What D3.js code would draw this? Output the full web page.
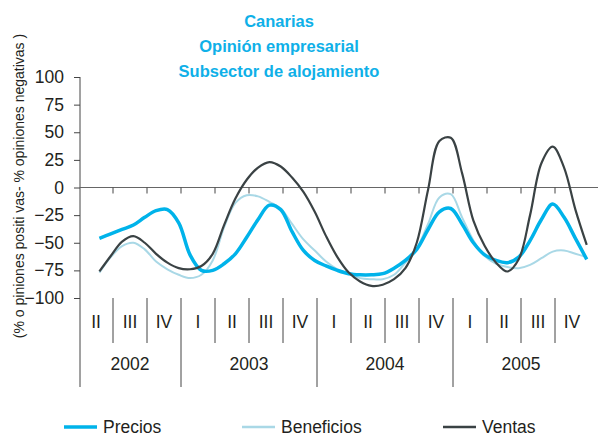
<!DOCTYPE html>
<html>
<head>
<meta charset="utf-8">
<script src="https://cdn.jsdelivr.net/npm/d3@7"></script>
<style>
  html, body { margin: 0; padding: 0; background: #fff; }
  svg { display: block; font-family: "Liberation Sans", Arial, Helvetica, sans-serif; }
</style>
</head>
<body>
<div id="chart"><svg width="598" height="437"></svg></div>
<script>
// titles
var titles = ["Canarias", "Opinión empresarial", "Subsector de alojamiento"];
var yLabel = "(% o piniones positi vas- % opiniones negativas )";

// category table: quarters from 2002 II to 2005 IV
var years = ["2002", "2003", "2004", "2005"];
var quarters = ["II", "III", "IV", "I", "II", "III", "IV", "I", "II", "III", "IV", "I", "II", "III", "IV"];
var quartersPerYear = [3, 4, 4, 4];
var yTicks = [100, 75, 50, 25, 0, -25, -50, -75, -100];

// monthly series, first value ~ two months into 2002 II
var firstMonth = 1.8;
var precios = [-46, -42, -38, -34, -27, -21, -20, -32, -61, -75, -75, -69, -60, -45, -29, -16, -20, -40, -57, -66,
  -71, -75, -78, -79, -79, -78, -73, -66, -56, -38, -22, -19, -33, -50, -61, -66, -68, -63, -48, -29,
  -15, -27, -46, -65];
var beneficios = [-77, -63, -53, -50, -56, -67, -74, -79, -82, -79, -66, -36, -14, -7, -8, -13, -19, -33, -47, -57,
  -67, -74, -78, -82, -83, -83, -79, -68, -55, -33, -9, -6, -27, -48, -62, -69, -72, -73, -70, -64,
  -58, -57, -60, -63];
var ventas = [-76, -62, -49, -44, -50, -60, -68, -73, -74, -71, -60, -34, -10, 7, 18, 23, 19, 9, -4, -22,
  -44, -63, -77, -85, -89, -88, -83, -73, -50, -2, 42, 45, 13, -30, -53, -68, -76, -65, -25, 22,
  37, 18, -20, -52];

var seriesNames = ["Precios", "Beneficios", "Ventas"];
var seriesColors = ["#00b3ea", "#a9d8e6", "#3a4244"];
var seriesWidths = [3.5, 2, 2.2];

var W = 598, H = 437;
var svg = d3.select("#chart").select("svg");
var ink = "#231f20";
var fs = "17.5px";

var y = d3.scaleLinear().domain([-100, 100]).range([298, 77]);
var xq = d3.scaleLinear().domain([0, 15]).range([79, 589]);
function xm(m) { return xq(m / 3); }

// title
svg.append("g").selectAll("text")
  .data(titles)
  .enter()
  .append("text")
  .attr("x", 279)
  .attr("y", function(d, i) { return 27 + i * 25; })
  .attr("text-anchor", "middle")
  .style("font-size", "16.5px")
  .style("font-weight", "bold")
  .style("fill", "#0fb0e8")
  .text(function(d) { return d; });

// y axis label
svg.append("text")
  .attr("transform", "translate(24,186)rotate(-90)")
  .attr("text-anchor", "middle")
  .style("font-size", "14px")
  .style("fill", ink)
  .text(yLabel);

// y axis
var yaxis = d3.axisLeft(y).tickValues(yTicks).tickSize(6).tickSizeOuter(0).tickPadding(10);
var gy = svg.append("g").attr("transform", "translate(80,0)").call(yaxis);
gy.select(".domain").remove();
gy.selectAll("line").attr("stroke", "#444");
gy.selectAll("text").style("font-size", fs).style("fill", ink);

svg.append("line")
  .attr("x1", 80).attr("x2", 80)
  .attr("y1", y(100)).attr("y2", 387)
  .attr("stroke", "#444");

// zero line with quarter ticks
svg.append("line")
  .attr("x1", 80).attr("x2", W)
  .attr("y1", y(0)).attr("y2", y(0))
  .attr("stroke", "#666");
svg.append("g").selectAll("line")
  .data(d3.range(1, 15))
  .enter()
  .append("line")
  .attr("x1", function(d) { return xq(d); })
  .attr("x2", function(d) { return xq(d); })
  .attr("y1", y(0)).attr("y2", y(0) + 6)
  .attr("stroke", "#444");

// category table
var yearEnds = [];
var acc = 0;
quartersPerYear.forEach(function(n) { acc += n; yearEnds.push(acc); });

svg.append("g").selectAll("line")
  .data(d3.range(1, 15))
  .enter()
  .append("line")
  .attr("x1", function(d) { return xq(d); })
  .attr("x2", function(d) { return xq(d); })
  .attr("y1", y(-100))
  .attr("y2", function(d) { return yearEnds.indexOf(d) >= 0 ? 387 : 343; })
  .attr("stroke", "#444");

svg.append("g").selectAll("text")
  .data(quarters)
  .enter()
  .append("text")
  .attr("x", function(d, i) { return xq(i + 0.5); })
  .attr("y", 328)
  .attr("text-anchor", "middle")
  .style("font-size", fs)
  .style("fill", ink)
  .text(function(d) { return d; });

svg.append("g").selectAll("text")
  .data(years)
  .enter()
  .append("text")
  .attr("x", function(d, i) {
    var start = i === 0 ? 0 : yearEnds[i - 1];
    return xq((start + yearEnds[i]) / 2);
  })
  .attr("y", 370)
  .attr("text-anchor", "middle")
  .style("font-size", fs)
  .style("fill", ink)
  .text(function(d) { return d; });

// lines
var line = d3.line()
  .x(function(d, i) { return xm(firstMonth + i); })
  .y(function(d) { return y(d); })
  .curve(d3.curveCatmullRom);

var data = [precios, beneficios, ventas];
[1, 0, 2].forEach(function(k) {
  svg.append("path")
    .datum(data[k])
    .attr("d", line)
    .attr("fill", "none")
    .attr("stroke", seriesColors[k])
    .attr("stroke-width", seriesWidths[k])
    .attr("stroke-linejoin", "round");
});

// legend
var legendX = [64, 242, 443];
var leg = svg.append("g").selectAll("g")
  .data(seriesNames)
  .enter()
  .append("g")
  .attr("transform", function(d, i) { return "translate(" + legendX[i] + ",427)"; });
leg.append("line")
  .attr("x1", 0).attr("x2", 33)
  .attr("stroke", function(d, i) { return seriesColors[i]; })
  .attr("stroke-width", function(d, i) { return i === 0 ? 3.5 : 2.5; });
leg.append("text")
  .attr("x", 39)
  .attr("y", 6)
  .style("font-size", fs)
  .style("fill", ink)
  .text(function(d) { return d; });
</script>
</body>
</html>
